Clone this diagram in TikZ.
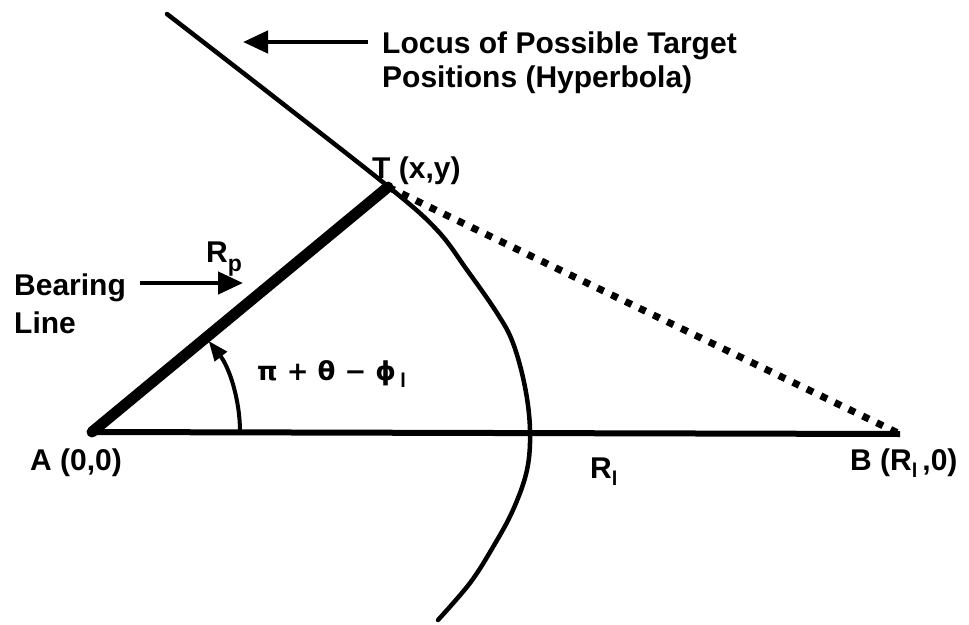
\documentclass[tikz,border=0pt]{standalone}
\usepackage{fontspec}
\setmainfont{Liberation Sans}
\newfontfamily\greekfont{DejaVu Sans}
\usetikzlibrary{arrows.meta}
\tikzset{
  lbl/.style={inner sep=0pt, anchor=base west, font=\fontsize{30}{32}\selectfont\bfseries},
  curve/.style={line width=4.5pt, line cap=round},
  baseline/.style={line width=6pt},
  bearing/.style={line width=11pt, line cap=round},
  dotline/.style={line width=7pt, dash pattern=on 7pt off 8.5pt},
  pointer/.style={line width=4.5pt, -{Triangle[length=25pt,width=22pt]}},
  anglearrow/.style={line width=4pt, -{Triangle[length=20pt,width=15pt]}}
}
\newcommand{\subl}{\raisebox{-7pt}{\fontsize{20}{20}\selectfont l}}
\begin{document}
\begin{tikzpicture}[x=1pt,y=-1pt]
\useasboundingbox (0,0) rectangle (969,624);
\coordinate (A) at (92,432);
\coordinate (B) at (900,434);
\coordinate (T) at (388,187);
% hyperbola
\draw[curve] plot[smooth, tension=0.6] coordinates {(167,14) (278,100) (390,188) (437,230) (467,270) (497,313) (513,343) (525,387) (530,430) (527,470) (513,510) (493,547) (470,583) (438,620)};
% baseline A-B
\draw[baseline] (A) -- (B);
% dotted T-B
\draw[dotline] (T) -- (B);
% bearing line
\draw[bearing] (A) -- (T);
% angle arc
\draw[anglearrow] ([xshift=148pt]A) arc[start angle=0, end angle=-38, radius=148];
% pointers
\coordinate (L1) at (368,42);
\coordinate (L2) at (243,42);
\draw[pointer] (L1) -- (L2);
\coordinate (B1) at (140,283);
\coordinate (B2) at (243,283);
\draw[pointer] (B1) -- (B2);
% labels
\node[lbl] (locus1) at (382,53) {Locus of Possible Target};
\node[lbl] (locus2) at (382,87) {Positions (Hyperbola)};
\node[lbl] (tlab) at (372,178) {T (x,y)};
\node[lbl] (rp) at (206,262) {R\raisebox{-9pt}{\fontsize{23}{23}\selectfont p}};
\node[lbl] (bear1) at (14,295) {Bearing};
\node[lbl] (bear2) at (14,333) {Line};
\node[lbl] (alab) at (30,470) {A (0,0)};
\node[lbl] (blab) at (850,470) {B (R\subl\,,0)};
\node[lbl] (rl) at (590,478) {R\subl};
\node[lbl, font=\fontsize{26}{28}\selectfont\bfseries\greekfont] (ang) at (257,380) {π + θ − ϕ\,\raisebox{-7pt}{\fontsize{20}{20}\selectfont\rmfamily\bfseries l}};
\end{tikzpicture}
\end{document}
